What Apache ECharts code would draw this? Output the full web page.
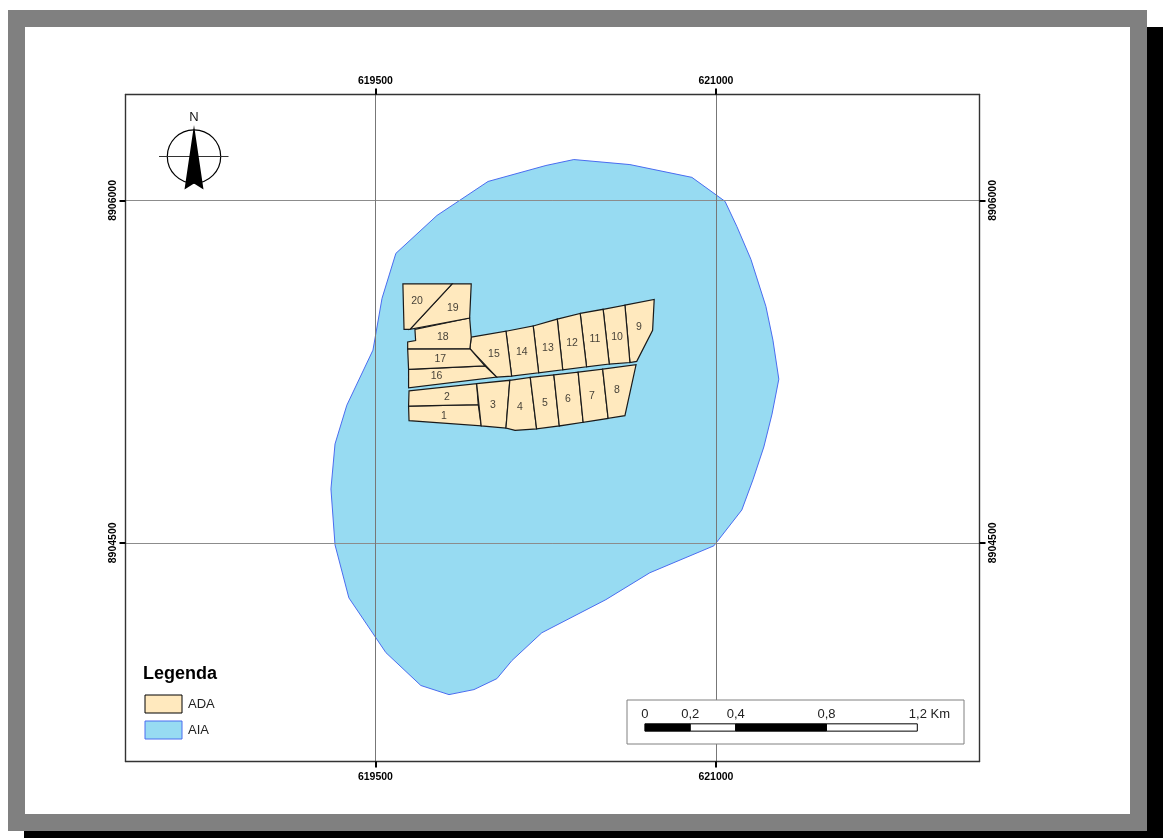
<!DOCTYPE html>
<html><head><meta charset="utf-8">
<style>html,body{margin:0;padding:0;background:#fff}#c{width:1169px;height:838px}</style>
<script src="https://cdn.jsdelivr.net/npm/echarts@6/dist/echarts.min.js"></script>
</head><body><div id="c"></div>
<script>
const eastTicks = [619500, 621000];
const northTicks = [8904500, 8906000];
const eastRange = [618399, 622161];
const northRange = [8903542, 8906464];

const aiaRing = [[620374,8906179],[620621,8906157],[620894,8906101],[621040,8905996],[621092,8905886],[621154,8905742],[621220,8905536],[621251,8905388],[621277,8905217],[621247,8905064],[621211,8904920],[621163,8904776],[621114,8904644],[620991,8904487],[620709,8904369],[620515,8904251],[620233,8904106],[620101,8903984],[620035,8903905],[619934,8903857],[619824,8903835],[619700,8903875],[619546,8904019],[619383,8904259],[619322,8904491],[619304,8904736],[619322,8904933],[619374,8905103],[619489,8905344],[619529,8905571],[619590,8905768],[619771,8905934],[619996,8906083],[620251,8906153]];

const parcelNames = ['1','2','3','4','5','6','7','8','9','10','11','12','13','14','15','16','17','18','19','20'];
const parcelRings = [
 [[619646,8905099],[619953,8905105],[619966,8905012],[619648,8905035]],
 [[619648,8905166],[619946,8905197],[619953,8905105],[619646,8905099]],
 [[619946,8905197],[620092,8905212],[620075,8905003],[619966,8905012]],
 [[620092,8905212],[620182,8905225],[620210,8904999],[620115,8904993],[620075,8905003]],
 [[620182,8905225],[620286,8905236],[620310,8905012],[620210,8904999]],
 [[620286,8905236],[620393,8905248],[620415,8905028],[620310,8905012]],
 [[620393,8905248],[620501,8905261],[620525,8905045],[620415,8905028]],
 [[620501,8905261],[620648,8905280],[620599,8905057],[620525,8905045]],
 [[620599,8905541],[620728,8905566],[620721,8905431],[620651,8905295],[620621,8905290]],
 [[620503,8905523],[620599,8905541],[620621,8905290],[620530,8905283]],
 [[620402,8905505],[620503,8905523],[620530,8905283],[620430,8905271]],
 [[620301,8905480],[620402,8905505],[620430,8905271],[620325,8905258]],
 [[620195,8905450],[620301,8905480],[620325,8905258],[620219,8905245]],
 [[620075,8905427],[620195,8905450],[620219,8905245],[620100,8905230]],
 [[619922,8905401],[620075,8905427],[620100,8905230],[620034,8905226],[619916,8905351]],
 [[619646,8905260],[619982,8905275],[620034,8905226],[619646,8905179]],
 [[619642,8905350],[619916,8905351],[619982,8905275],[619646,8905260]],
 [[619674,8905435],[619915,8905485],[619922,8905401],[619916,8905351],[619642,8905350],[619642,8905380],[619677,8905386]],
 [[619838,8905634],[619922,8905634],[619915,8905485],[619652,8905435]],
 [[619621,8905634],[619838,8905634],[619652,8905435],[619626,8905435]]
];
const parcelLabelEast = [619802,619815,620018,620137,620247,620348,620454,620564,620661,620564,620467,620366,620260,620145,620022,619769,619786,619797,619841,619683];
const parcelLabelNorth = [8905060,8905143,8905108,8905099,8905117,8905134,8905147,8905173,8905449,8905405,8905397,8905379,8905357,8905340,8905331,8905235,8905309,8905405,8905532,8905563];

const scaleBreaksKm = [0, 0.2, 0.4, 0.8, 1.2];
const scaleLabels = ['0', '0,2', '0,4', '0,8', '1,2 Km'];
const scaleOriginEast = 620687;
const scaleBarNorth = [8903707, 8903675];
const scaleLabelNorth = 8903750;

const FONT = '"Liberation Sans", Arial, sans-serif';
const ADA_FILL = '#FFE9BE', AIA_FILL = '#97DBF2', AIA_LINE = '#4A6CF0';

function ringShape(api, ring) { return { points: ring.map(p => api.coord(p)) }; }

const axisCommon = {
  type: 'value', z: 5, scale: true,
  axisLine: { show: true, onZero: false, lineStyle: { color: '#333', width: 1.4 } },
  axisTick: { show: true, inside: false, length: 6, lineStyle: { color: '#000', width: 2 } }
};
function xAxisAt(position, margin) {
  return Object.assign({}, axisCommon, {
    position, min: eastRange[0], max: eastRange[1],
    splitLine: { show: true, lineStyle: { color: '#777', width: 1 } },
    axisTick: Object.assign({}, axisCommon.axisTick, { customValues: eastTicks }),
    axisLabel: { customValues: eastTicks, formatter: v => String(v), margin, fontSize: 10.5, fontWeight: 'bold', color: '#000', fontFamily: FONT }
  });
}
function yAxisAt(position, margin) {
  return Object.assign({}, axisCommon, {
    position, min: northRange[0], max: northRange[1],
    splitLine: { show: true, lineStyle: { color: '#8c8c8c', width: 1 } },
    axisTick: Object.assign({}, axisCommon.axisTick, { customValues: northTicks }),
    axisLabel: { customValues: northTicks, formatter: v => String(v), rotate: 90, margin, fontSize: 10.5, fontWeight: 'bold', color: '#000', fontFamily: FONT }
  });
}

const option = {
  animation: false,
  backgroundColor: '#fff',
  grid: { left: 125.5, right: 189.5, top: 94.5, bottom: 76.5, containLabel: false },
  xAxis: [xAxisAt('bottom', 10.5), xAxisAt('top', 8)],
  yAxis: [yAxisAt('left', 7), yAxisAt('right', 8.5)],
  title: { text: 'Legenda', left: 143, top: 665, padding: 0, textStyle: { fontFamily: FONT, fontSize: 18, fontWeight: 'bold', color: '#000' } },
  legend: {
    left: 144.5, top: 694.5, orient: 'vertical', padding: 0, itemWidth: 37, itemHeight: 18, itemGap: 7, selectedMode: false,
    textStyle: { fontFamily: FONT, fontSize: 13, color: '#222', padding: [1, 0, 0, 1] },
    data: [
      { name: 'ADA', icon: 'rect', itemStyle: { color: ADA_FILL, borderColor: '#000', borderWidth: 1 } },
      { name: 'AIA', icon: 'rect', itemStyle: { color: AIA_FILL, borderColor: AIA_LINE, borderWidth: 1 } }
    ]
  },
  graphic: [
    { type: 'rect', z: -20, silent: true, shape: { x: 24, y: 27, width: 1139, height: 811 }, style: { fill: '#000' } },
    { type: 'rect', z: -19, silent: true, shape: { x: 8, y: 10, width: 1139, height: 821 }, style: { fill: '#808080' } },
    { type: 'rect', z: -18, silent: true, shape: { x: 25, y: 27, width: 1105, height: 787 }, style: { fill: '#fff' } },
    { type: 'rect', z: 8, silent: true, shape: { x: 627, y: 700, width: 337, height: 44 }, style: { fill: '#fff', stroke: '#808080', lineWidth: 1 } },
    { type: 'circle', z: 9, silent: true, shape: { cx: 194, cy: 156.5, r: 26.7 }, style: { fill: 'none', stroke: '#000', lineWidth: 1.2 } },
    { type: 'line', z: 9, silent: true, shape: { x1: 159, y1: 156.5, x2: 228.5, y2: 156.5 }, style: { stroke: '#333', lineWidth: 1 } },
    { type: 'polygon', z: 10, silent: true, shape: { points: [[194,125],[203.5,189.5],[194,183.5],[184.5,189.5]] }, style: { fill: '#000' } },
    { type: 'text', z: 10, silent: true, style: { x: 194, y: 117, text: 'N', align: 'center', verticalAlign: 'middle', font: '13px ' + FONT, fill: '#111' } }
  ],
  series: [
    {
      type: 'custom', name: 'AIA', z: 2, coordinateSystem: 'cartesian2d', silent: true,
      data: [[0]],
      renderItem: (params, api) => ({ type: 'polygon', shape: ringShape(api, aiaRing), style: { fill: AIA_FILL, stroke: AIA_LINE, lineWidth: 1 } })
    },
    {
      type: 'custom', name: 'ADA', z: 7, coordinateSystem: 'cartesian2d', silent: true,
      data: parcelRings.map((r, i) => [i]),
      renderItem: (params, api) => ({ type: 'polygon', shape: ringShape(api, parcelRings[api.value(0)]), style: { fill: ADA_FILL, stroke: '#1a1a1a', lineWidth: 1.2 } })
    },
    {
      type: 'scatter', name: 'parcel labels', z: 8, symbolSize: 0, silent: true,
      data: parcelNames.map((n, i) => ({ name: n, value: [parcelLabelEast[i], parcelLabelNorth[i]] })),
      label: { show: true, position: 'inside', offset: [0, 1], formatter: p => p.name, fontFamily: FONT, fontSize: 10.5, color: '#111' }
    },
    {
      type: 'custom', name: 'scale bar', z: 9, coordinateSystem: 'cartesian2d', silent: true,
      data: scaleBreaksKm.slice(0, -1).map((k, i) => [k, scaleBreaksKm[i + 1], i]),
      renderItem: (params, api) => {
        const a = api.coord([scaleOriginEast + api.value(0) * 1000, scaleBarNorth[0]]);
        const b = api.coord([scaleOriginEast + api.value(1) * 1000, scaleBarNorth[1]]);
        return { type: 'rect', shape: { x: a[0], y: a[1], width: b[0] - a[0], height: b[1] - a[1] },
          style: { fill: api.value(2) % 2 === 0 ? '#000' : '#fff', stroke: '#000', lineWidth: 1 } };
      }
    },
    {
      type: 'custom', name: 'scale labels', z: 9, coordinateSystem: 'cartesian2d', silent: true,
      data: scaleBreaksKm.map((k, i) => [k, i]),
      renderItem: (params, api) => {
        const i = api.value(1);
        const p = api.coord([scaleOriginEast + api.value(0) * 1000, scaleLabelNorth]);
        const last = i === scaleBreaksKm.length - 1;
        return { type: 'text', style: { x: p[0] - (last ? 8.5 : 0), y: p[1], text: scaleLabels[i], align: last ? 'left' : 'center', verticalAlign: 'middle', font: '13px ' + FONT, fill: '#222' } };
      }
    }
  ]
};
const chart = echarts.init(document.getElementById('c'), null, { renderer: 'canvas' });
chart.setOption(option);
</script></body></html>
